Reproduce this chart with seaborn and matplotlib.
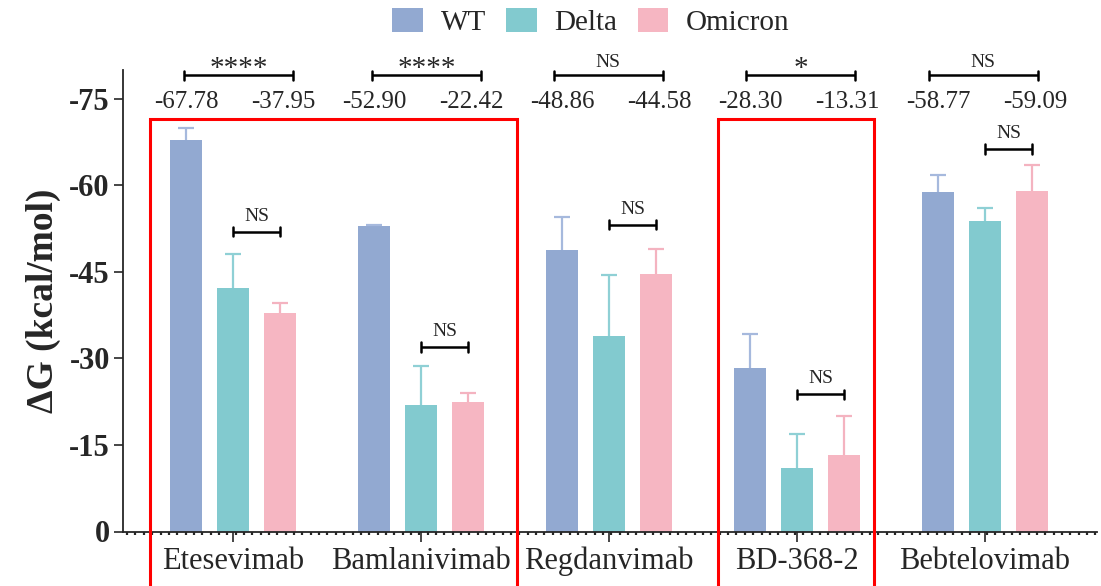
import numpy as np
import pandas as pd
import matplotlib
matplotlib.use("Agg")
import matplotlib.pyplot as plt
from matplotlib.patches import Patch, Rectangle
from matplotlib.ticker import FixedLocator
import seaborn as sns

# ---------------- data ----------------
antibodies = ["Etesevimab", "Bamlanivimab", "Regdanvimab", "BD-368-2", "Bebtelovimab"]
variants = ["WT", "Delta", "Omicron"]
wt_mean = [-67.78, -52.90, -48.86, -28.30, -58.77]
delta_mean = [-42.2, -21.9, -33.9, -11.05, -53.9]
omicron_mean = [-37.95, -22.42, -44.58, -13.31, -59.09]
wt_err = [2.2, 0.3, 5.7, 5.95, 2.95]
delta_err = [5.9, 6.8, 10.5, 5.85, 2.25]
omicron_err = [1.6, 1.6, 4.4, 6.7, 4.4]
top_sig = ["****", "****", "NS", "*", "NS"]          # WT vs Omicron
small_sig = ["NS", "NS", "NS", "NS", "NS"]           # Delta vs Omicron
small_sig_y = [-52.0, -32.0, -53.2, -23.8, -66.3]
top_bracket_shift = [0.0, 0.0, -0.035, -0.01, -0.04]
y_ticks = [0, -15, -30, -45, -60, -75]
boxed_groups = [(0, 1), (3, 3)]

colors = ["#92A9D1", "#82CACF", "#F6B6C2"]
err_colors = ["#A6B9DD", "#8FD0D5", "#F4B3C0"]

means = [wt_mean, delta_mean, omicron_mean]
errs = [wt_err, delta_err, omicron_err]

df = pd.DataFrame({
    "antibody": np.tile(antibodies, len(variants)),
    "variant": np.repeat(variants, len(antibodies)),
    "dG": np.concatenate(means),
})

# ---------------- style ----------------
sns.set_style("ticks")
plt.rcParams["font.family"] = ["Liberation Serif", "DejaVu Serif"]
plt.rcParams["axes.linewidth"] = 1.3

fig = plt.figure(figsize=(11.01, 5.86), dpi=100)
ax = fig.add_axes([123 / 1101, 1 - 531.5 / 586, (1097 - 123) / 1101, (531.5 - 70) / 586])

sns.barplot(data=df, x="antibody", y="dG", hue="variant", hue_order=variants,
            order=antibodies, palette=colors, width=0.75, gap=0.33,
            errorbar=None, legend=False, ax=ax, saturation=1, linewidth=0)

# error bars (one-sided, towards more negative values)
cap_half = 0.043
for hi, cont in enumerate(ax.containers):
    for gi, bar in enumerate(cont):
        xc = bar.get_x() + bar.get_width() / 2
        m = means[hi][gi]
        e = errs[hi][gi]
        ax.vlines(xc, m, m - e, color=err_colors[hi], lw=1.6, zorder=1)
        ax.hlines(m - e, xc - cap_half, xc + cap_half, color=err_colors[hi], lw=1.6, zorder=1)

ax.set_xlim(-0.585, 4.596)
ax.set_ylim(0, -80)
ax.set_yticks(y_ticks)
ax.set_yticklabels([str(t) for t in y_ticks], fontsize=22, fontweight="bold")
ax.set_xticks(range(len(antibodies)))
ax.set_xticklabels(antibodies, fontsize=22)
ax.set_xlabel("")
ax.set_ylabel("ΔG (kcal/mol)", fontsize=27, fontweight="bold", labelpad=6)
ax.tick_params(axis="y", length=6.5, width=1.2, pad=3)
ax.tick_params(axis="x", which="major", length=7, width=1.2, pad=4)
ax.xaxis.set_minor_locator(FixedLocator(np.arange(-0.585 + 0.022, 4.6, 0.0444)))
ax.tick_params(axis="x", which="minor", length=2.2, width=1.6, direction="out")
sns.despine(ax=ax)

# ---------------- significance annotations ----------------
def bracket(x0, x1, y, h, clip=False):
    ax.plot([x0, x1], [y, y], color="black", lw=1.8, clip_on=clip, solid_capstyle="butt")
    ax.plot([x0, x0], [y - h, y + h], color="black", lw=1.8, clip_on=clip)
    ax.plot([x1, x1], [y - h, y + h], color="black", lw=1.8, clip_on=clip)

off = 0.25
for gi in range(len(antibodies)):
    # top bracket: WT vs Omicron
    xl, xr = gi - 0.26 + top_bracket_shift[gi], gi + 0.32 + top_bracket_shift[gi]
    bracket(xl, xr, -79.1, 0.8)
    if "*" in top_sig[gi]:
        ax.text((xl + xr) / 2, -78.9, top_sig[gi], ha="center", va="baseline", fontsize=21)
    else:
        ax.text((xl + xr) / 2, -80.6, top_sig[gi], ha="center", va="baseline", fontsize=14)
    ax.text(gi - off, -74.4, f"{wt_mean[gi]:.2f}", ha="center", va="center", fontsize=18)
    ax.text(gi + off + 0.02, -74.4, f"{omicron_mean[gi]:.2f}", ha="center", va="center", fontsize=18)
    # small bracket: Delta vs Omicron
    bracket(gi, gi + off, small_sig_y[gi], 0.8)
    ax.text(gi + off / 2, small_sig_y[gi] - 1.2, small_sig[gi], ha="center",
            va="bottom", fontsize=14)

# red boxes
for g0, g1 in boxed_groups:
    if g0 == g1:
        x0, x1 = g0 - 0.42, g1 + 0.41
    else:
        x0, x1 = g0 - 0.441, g1 + 0.51
    ax.add_patch(Rectangle((x0, 12), x1 - x0, -71.45 - 12, fill=False,
                           edgecolor="#FF0000", lw=2.2, clip_on=False, zorder=5))

# legend
handles = [Patch(facecolor=c, edgecolor="none", label=v) for c, v in zip(colors, variants)]
fig.legend(handles=handles, loc="center", bbox_to_anchor=(591 / 1101, 1 - 22 / 586),
           ncol=3, frameon=False, fontsize=21, handlelength=1.05, handleheight=0.9,
           handletextpad=0.6, columnspacing=0.7)

fig.savefig("out.png", dpi=100)
